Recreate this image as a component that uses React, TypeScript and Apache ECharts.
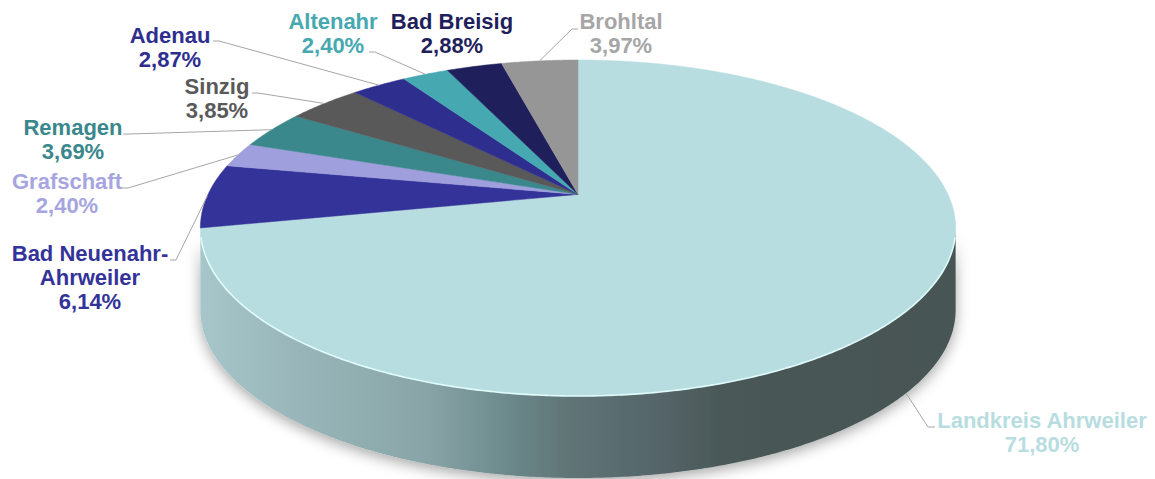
import React, { useEffect, useRef } from "react";
import * as echarts from "echarts";

// ---- data ----
const names = [
  "Landkreis Ahrweiler",
  "Bad Neuenahr-\nAhrweiler",
  "Grafschaft",
  "Remagen",
  "Sinzig",
  "Adenau",
  "Altenahr",
  "Bad Breisig",
  "Brohltal",
];
const values = [71.8, 6.14, 2.4, 3.69, 3.85, 2.87, 2.4, 2.88, 3.97];

// ---- styles ----
const sliceColors = ["#B8DDE0", "#333399", "#A09FDD", "#3A878C", "#595959", "#2E2E8F", "#46A8B0", "#1F1F5C", "#969696"];
const labelColors = ["#B8DDE0", "#333399", "#A6A5E0", "#3A878C", "#595959", "#2E2E8F", "#46A8B0", "#1F1F5C", "#A6A6A6"];

// label layout: [centerX, topY, lineStartX, lineStartY, elbowX]  (elbowX null => no leader line)
const labelLayout: Array<[number, number, number, number, number | null]> = [
  [1042, 408, 935, 427, 928],
  [90, 241, 170, 260, 176],
  [67, 169, 122, 188, 128],
  [73, 115, 123, 134, 129],
  [217, 74, 252, 93, 258],
  [170, 23, 213, 41, 219],
  [333, 9, 369, 52, 375],
  [452, 9, 0, 0, null],
  [621, 9, 578, 29, 572],
];

// projection parameters (pixels)
const CX = 578;
const CY = 194.4;
const RX = 370;
const RY = 161.3;
const K = 0.2;
const DEPTH = 82;

function proj(deg: number, drop: number): number[] {
  const t = (deg * Math.PI) / 180;
  const den = 1 + K * Math.cos(t);
  return [CX + (RX * Math.sin(t)) / den, CY - (RY * Math.cos(t)) / den + drop];
}

function arcPoints(a0: number, a1: number, drop: number): number[][] {
  const pts: number[][] = [];
  const n = Math.max(2, Math.ceil(Math.abs(a1 - a0) / 0.5));
  for (let i = 0; i <= n; i++) pts.push(proj(a0 + ((a1 - a0) * i) / n, drop));
  return pts;
}

const fmt = (v: number) => v.toFixed(2).replace(".", ",") + "%";

export default function App() {
  const ref = useRef<HTMLDivElement>(null);
  useEffect(() => {
    document.body.style.margin = "0";
    const chart = echarts.init(ref.current!, null, { renderer: "svg" });
    const total = values.reduce((a, b) => a + b, 0);
    const starts: number[] = [];
    let acc = 0;
    values.forEach((v) => {
      starts.push((acc / total) * 360);
      acc += v;
    });
    const visLo = (Math.acos(-K) * 180) / Math.PI;
    const visHi = 360 - visLo;

    const renderItem = (params: any, api: any) => {
      const i = params.dataIndex;
      const v = api.value(0);
      const a0 = starts[i];
      const a1 = a0 + (v / total) * 360;
      const children: any[] = [];
      // side wall
      const s0 = Math.max(a0, visLo);
      const s1 = Math.min(a1, visHi);
      if (s1 > s0) {
        const top = arcPoints(s0, s1, 0);
        const bot = arcPoints(s0, s1, DEPTH).reverse();
        children.push({
          type: "polygon",
          z2: 1,
          shape: { points: top.concat(bot) },
          style: {
            fill: {
              type: "linear",
              x: 0,
              y: 0,
              x2: 1,
              y2: 0,
              colorStops: [
                { offset: 0, color: "#A7C6C9" },
                { offset: 0.13, color: "#98B6B9" },
                { offset: 0.3, color: "#88A4A6" },
                { offset: 0.4, color: "#6E8B8D" },
                { offset: 0.48, color: "#617677" },
                { offset: 0.6, color: "#55666A" },
                { offset: 0.69, color: "#4B5858" },
                { offset: 1, color: "#475454" },
              ],
            },
            shadowBlur: 14,
            shadowColor: "rgba(0,0,0,0.35)",
            shadowOffsetY: 4,
          },
        });
        children.push({
          type: "polyline",
          z2: 6,
          shape: { points: arcPoints(s0 + 3, s1 - 3, 0) },
          style: { stroke: "#E4FFFF", lineWidth: 1.6, fill: null, opacity: 0.9 },
        });
      }
      // top face
      const topPts = [[CX, CY]].concat(arcPoints(a0, a1, 0));
      children.push({
        type: "polygon",
        z2: 5,
        shape: { points: topPts },
        style: { fill: sliceColors[i], stroke: sliceColors[i], lineWidth: 0.5 },
      });
      // leader line
      const lay = labelLayout[i];
      if (lay[4] !== null) {
        const mid = (a0 + a1) / 2;
        const inFront = mid > visLo && mid < visHi;
        const anchor = proj(mid, inFront ? DEPTH : 0);
        children.push({
          type: "polyline",
          z2: 8,
          shape: { points: [[lay[2], lay[3]], [lay[4], lay[3]], anchor] },
          style: { stroke: "#A6A6A6", lineWidth: 1, fill: null },
        });
      }
      // label
      children.push({
        type: "text",
        z2: 10,
        style: {
          text: names[i] + "\n" + fmt(v),
          x: lay[0],
          y: lay[1],
          fill: labelColors[i],
          font: 'bold 22px "Liberation Sans", Arial, sans-serif',
          lineHeight: 24,
          align: "center",
          verticalAlign: "top",
        },
      });
      return { type: "group", children };
    };

    chart.setOption({
      animation: false,
      backgroundColor: "#ffffff",
      series: [
        {
          type: "custom",
          coordinateSystem: "none",
          renderItem,
          data: values.map((v, i) => ({ value: [v], name: names[i] })),
        },
      ],
    });
    return () => chart.dispose();
  }, []);
  return <div ref={ref} style={{ width: 1155, height: 479 }} />;
}
